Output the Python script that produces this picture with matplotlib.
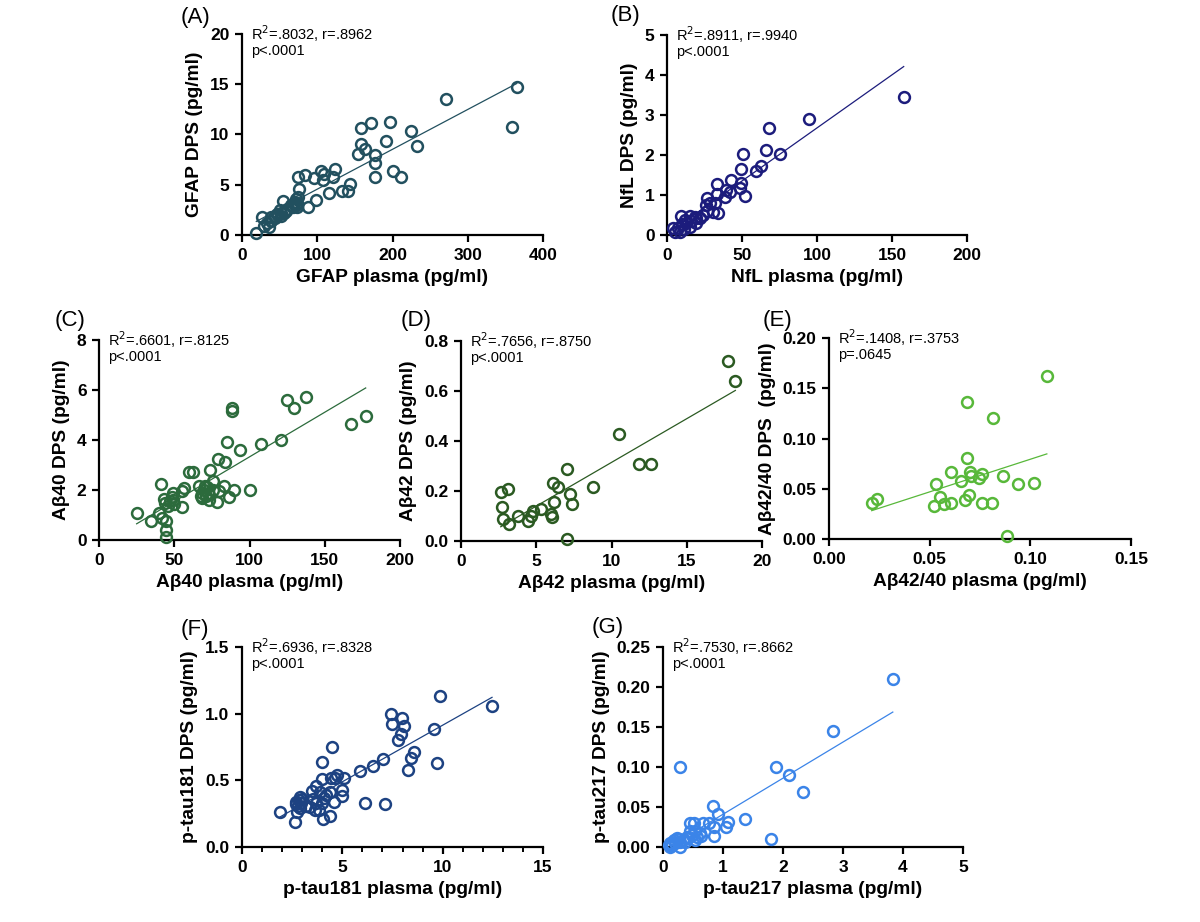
import numpy as np
import matplotlib
matplotlib.use('agg')
import matplotlib.pyplot as plt
from matplotlib.ticker import MultipleLocator, FormatStrFormatter

plt.rcParams['font.family'] = ['Liberation Sans', 'DejaVu Sans']

# (A) GFAP
gfap_x = [19, 26, 29, 33, 36, 39, 43.5, 48, 50, 52, 54, 55.5, 58, 68, 70, 72, 73, 75, 76, 75,
          84, 88, 96, 98, 105, 108, 109, 115.5, 121, 123, 133, 141, 143, 153.5, 157.5, 157.5,
          163, 171, 176.7, 176.7, 176.7, 196.7, 191, 201, 211, 224, 233, 271, 358.7, 365,
          47, 52, 60, 65, 72, 73, 38, 44]
gfap_y = [0.2, 1.76, 0.9, 1.2, 0.8, 1.8, 1.7, 2.0, 2.5, 1.9, 3.4, 2.2, 2.4, 2.8, 3.3, 3.55, 2.75,
          3.8, 4.6, 5.8, 5.95, 2.75, 5.65, 3.5, 6.4, 5.5, 6.1, 4.15, 5.8, 6.55, 4.4, 4.4, 5.05,
          8.1, 10.6, 9.1, 8.6, 11.1, 8.0, 7.2, 5.8, 11.2, 9.4, 6.4, 5.75, 10.3, 8.9, 13.55, 10.7,
          14.7, 2.1, 2.2, 2.6, 3.0, 3.0, 3.2, 1.4, 1.9]

# (B) NfL
nfl_x = [157.8, 94.7, 68, 66.2, 75.1, 50.9, 62.9, 59.1, 49.1, 49.6, 48.9, 52.2, 42.9, 41.8,
         39.1, 38.4, 33.3, 33.3, 34, 31.8, 30.7, 28.9, 26.9, 26.2, 26.7, 21.8, 18.4, 19.1,
         15.1, 16.2, 15.1, 11.8, 9.6, 10.2, 11.1, 7.3, 5.1, 4, 8.4, 12.9, 19.6, 24]
nfl_y = [3.46, 2.91, 2.67, 2.13, 2.03, 2.03, 1.73, 1.61, 1.65, 1.31, 1.17, 0.98, 1.38, 1.08,
         1.13, 0.96, 1.28, 1.02, 0.56, 0.79, 0.58, 0.79, 0.92, 0.75, 0.61, 0.42, 0.46, 0.29,
         0.48, 0.36, 0.21, 0.38, 0.48, 0.27, 0.14, 0.18, 0.08, 0.17, 0.08, 0.29, 0.42, 0.5]

# (C) Abeta40
ab40_x = [25, 34.3, 41.2, 40, 41.6, 44.3, 44.5, 44.5, 43.4, 43.8, 46, 47.2, 49, 49.4, 49.8,
          48.7, 55.4, 55.4, 56.7, 60, 62.2, 66.7, 68.2, 68.2, 70.4, 71.1, 72.2, 73.3, 73.8,
          75.5, 76, 78.2, 79.3, 79.7, 83.3, 83.7, 85.3, 86.6, 88.6, 88.6, 89.9, 93.7, 100.3,
          107.4, 120.7, 124.7, 129.6, 137.3, 167.4, 177.2, 70, 72, 68]
ab40_y = [1.08, 0.75, 2.25, 1.08, 0.88, 0.75, 0.41, 0.12, 1.65, 1.48, 1.35, 1.55, 1.9, 1.6,
          1.45, 1.72, 1.32, 1.95, 2.08, 2.72, 2.71, 2.15, 1.88, 1.68, 2.15, 1.75, 1.9, 1.61,
          2.79, 2.35, 1.99, 1.51, 3.24, 1.95, 2.17, 3.12, 3.91, 1.72, 5.28, 5.15, 2.01, 3.61,
          2.01, 3.85, 4.01, 5.59, 5.27, 5.71, 4.64, 4.95, 2.0, 2.1, 1.75]

# (D) Abeta42
ab42_x = [2.64, 2.75, 2.77, 3.15, 3.2, 3.81, 4.43, 4.66, 4.81, 5.32, 5.96, 6.03, 6.14, 6.21,
          6.47, 7.03, 7.03, 7.25, 7.36, 8.76, 10.51, 11.8, 12.62, 17.72, 18.23]
ab42_y = [0.198, 0.138, 0.088, 0.207, 0.068, 0.1, 0.08, 0.1, 0.12, 0.128, 0.108, 0.097, 0.231,
          0.158, 0.218, 0.287, 0.008, 0.188, 0.148, 0.218, 0.429, 0.309, 0.309, 0.719, 0.64]

# (E) Abeta42/40
ratio_x = [0.0212, 0.0240, 0.0522, 0.0532, 0.0552, 0.0569, 0.0607, 0.0607, 0.0656, 0.0676,
           0.0693, 0.0685, 0.0685, 0.0701, 0.0706, 0.0743, 0.0762, 0.0761, 0.0809, 0.0814,
           0.0862, 0.0883, 0.0941, 0.1019, 0.1082]
ratio_y = [0.0359, 0.0396, 0.0333, 0.0552, 0.0419, 0.0353, 0.0363, 0.0666, 0.0582, 0.0386,
           0.0436, 0.136, 0.0802, 0.0666, 0.0629, 0.0602, 0.0642, 0.0363, 0.0363, 0.120,
           0.0626, 0.003, 0.0546, 0.0559, 0.162]

# (F) p-tau181
pt181_x = [1.88, 2.62, 2.67, 2.74, 2.79, 2.84, 2.91, 2.87, 2.96, 3.37, 3.5, 3.62, 3.67, 3.7,
           3.84, 3.9, 4.0, 4.0, 4.0, 4.04, 4.2, 4.4, 4.4, 4.45, 4.5, 4.57, 4.62, 4.75, 4.98,
           4.98, 5.08, 5.9, 6.15, 6.53, 7.03, 7.14, 7.44, 7.48, 7.77, 7.94, 7.99, 8.06, 8.27,
           8.44, 8.55, 9.55, 9.72, 9.88, 12.46, 3.0, 2.7, 3.2, 3.55, 4.1]
pt181_y = [0.265, 0.19, 0.34, 0.26, 0.31, 0.35, 0.377, 0.29, 0.33, 0.30, 0.42, 0.28, 0.33,
           0.46, 0.28, 0.41, 0.64, 0.51, 0.33, 0.21, 0.39, 0.41, 0.23, 0.52, 0.75, 0.34, 0.52,
           0.54, 0.43, 0.38, 0.52, 0.57, 0.33, 0.61, 0.66, 0.32, 1.0, 0.926, 0.80, 0.85, 0.97,
           0.906, 0.576, 0.67, 0.71, 0.886, 0.631, 1.13, 1.06, 0.36, 0.32, 0.31, 0.36, 0.37]

# (G) p-tau217
pt217_x = [3.83, 2.83, 1.89, 2.10, 2.33, 0.275, 1.80, 1.37, 1.08, 1.05, 0.92, 0.835, 0.85,
           0.85, 0.77, 0.66, 0.52, 0.45, 0.53, 0.45, 0.615, 0.64, 0.53, 0.42, 0.29, 0.29,
           0.23, 0.18, 0.11, 0.12, 0.15, 0.2, 0.34, 0.40, 0.48, 0.093, 0.26, 0.37, 0.56]
pt217_y = [0.2097, 0.1448, 0.1002, 0.0898, 0.069, 0.1002, 0.01, 0.035, 0.031, 0.025, 0.041,
           0.051, 0.0245, 0.0141, 0.030, 0.030, 0.030, 0.030, 0.020, 0.020, 0.018, 0.014,
           0.009, 0.011, 0.0067, 0.0, 0.011, 0.009, 0.0046, 0.0004, 0.0025, 0.0046, 0.009,
           0.013, 0.015, 0.0025, 0.0096, 0.0067, 0.013]

panels = [
    # letter, x, y, colour, xlabel, ylabel, xmax, xstep, ymax, ystep, xfmt, yfmt, stats, rect, letter pos
    ('(A)', gfap_x, gfap_y, '#22505f', 'GFAP plasma (pg/ml)', 'GFAP DPS (pg/ml)',
     400, 100, 20, 5, '%d', '%d', ('R$^2$=.8032, r=.8962', 'p<.0001'),
     (242, 34, 301, 201), (181, 18)),
    ('(B)', nfl_x, nfl_y, '#1c1c7c', 'NfL plasma (pg/ml)', 'NfL DPS (pg/ml)',
     200, 50, 5, 1, '%d', '%d', ('R$^2$=.8911, r=.9940', 'p<.0001'),
     (667, 35, 300, 200), (611, 16)),
    ('(C)', ab40_x, ab40_y, '#2c6b3c', 'Aβ40 plasma (pg/ml)', 'Aβ40 DPS (pg/ml)',
     200, 50, 8, 2, '%d', '%d', ('R$^2$=.6601, r=.8125', 'p<.0001'),
     (99, 340, 301, 200), (55, 320)),
    ('(D)', ab42_x, ab42_y, '#2b5a22', 'Aβ42 plasma (pg/ml)', 'Aβ42 DPS (pg/ml)',
     20, 5, 0.8, 0.2, '%d', '%.1f', ('R$^2$=.7656, r=.8750', 'p<.0001'),
     (461, 341, 301, 200), (401, 320)),
    ('(E)', ratio_x, ratio_y, '#58b83a', 'Aβ42/40 plasma (pg/ml)', 'Aβ42/40 DPS  (pg/ml)',
     0.15, 0.05, 0.20, 0.05, '%.2f', '%.2f', ('R$^2$=.1408, r=.3753', 'p=.0645'),
     (829, 338, 302, 201), (763, 320)),
    ('(F)', pt181_x, pt181_y, '#1d4282', 'p-tau181 plasma (pg/ml)', 'p-tau181 DPS (pg/ml)',
     15, 5, 1.5, 0.5, '%d', '%.1f', ('R$^2$=.6936, r=.8328', 'p<.0001'),
     (242, 647, 301, 200), (181, 629)),
    ('(G)', pt217_x, pt217_y, '#3b84e8', 'p-tau217 plasma (pg/ml)', 'p-tau217 DPS (pg/ml)',
     5, 1, 0.25, 0.05, '%d', '%.2f', ('R$^2$=.7530, r=.8662', 'p<.0001'),
     (663, 647, 300, 200), (592, 628)),
]

W, H = 1200, 922
fig = plt.figure(figsize=(W / 100, H / 100), dpi=100)

for (letter, xs, ys, col, xlab, ylab, xmax, xstep, ymax, ystep, xfmt, yfmt,
     stats, rect, lpos) in panels:
    left, top, w, h = rect
    ax = fig.add_axes([left / W, 1 - (top + h) / H, w / W, h / H])
    xs = np.array(xs)
    ys = np.array(ys)
    ax.plot(xs, ys, 'o', ms=7.8, mfc='none', mec=col, mew=1.8, clip_on=False, zorder=3)
    k, b = np.polyfit(xs, ys, 1)
    xl = np.array([xs.min(), xs.max()])
    ax.plot(xl, k * xl + b, color=col, lw=0.9, zorder=2)

    ax.set_xlim(0, xmax)
    ax.set_ylim(0, ymax)
    ax.xaxis.set_major_locator(MultipleLocator(xstep))
    ax.yaxis.set_major_locator(MultipleLocator(ystep))
    ax.xaxis.set_major_formatter(FormatStrFormatter(xfmt))
    ax.yaxis.set_major_formatter(FormatStrFormatter(yfmt))
    if letter == '(F)':
        ax.xaxis.set_minor_locator(MultipleLocator(1))
        ax.tick_params(axis='x', which='minor', length=3.5, width=1.4)
    for s in ('top', 'right'):
        ax.spines[s].set_visible(False)
    for s in ('left', 'bottom'):
        ax.spines[s].set_linewidth(1.6)
    ax.tick_params(which='major', length=5, width=1.6, labelsize=12.5, pad=4)
    for lbl in ax.get_xticklabels() + ax.get_yticklabels():
        lbl.set_fontweight('bold')
    ax.set_xlabel(xlab, fontsize=13.8, fontweight='bold', labelpad=5)
    ax.set_ylabel(ylab, fontsize=13.8, fontweight='bold', labelpad=5)

    ax.text(0.03, 1.0, stats[0], transform=ax.transAxes, fontsize=10.5, va='center', ha='left')
    ax.text(0.03, 0.915, stats[1], transform=ax.transAxes, fontsize=10.5, va='center', ha='left')
    fig.text(lpos[0] / W, 1 - lpos[1] / H, letter, fontsize=16, va='center', ha='left')

fig.savefig('out.png', dpi=100)
